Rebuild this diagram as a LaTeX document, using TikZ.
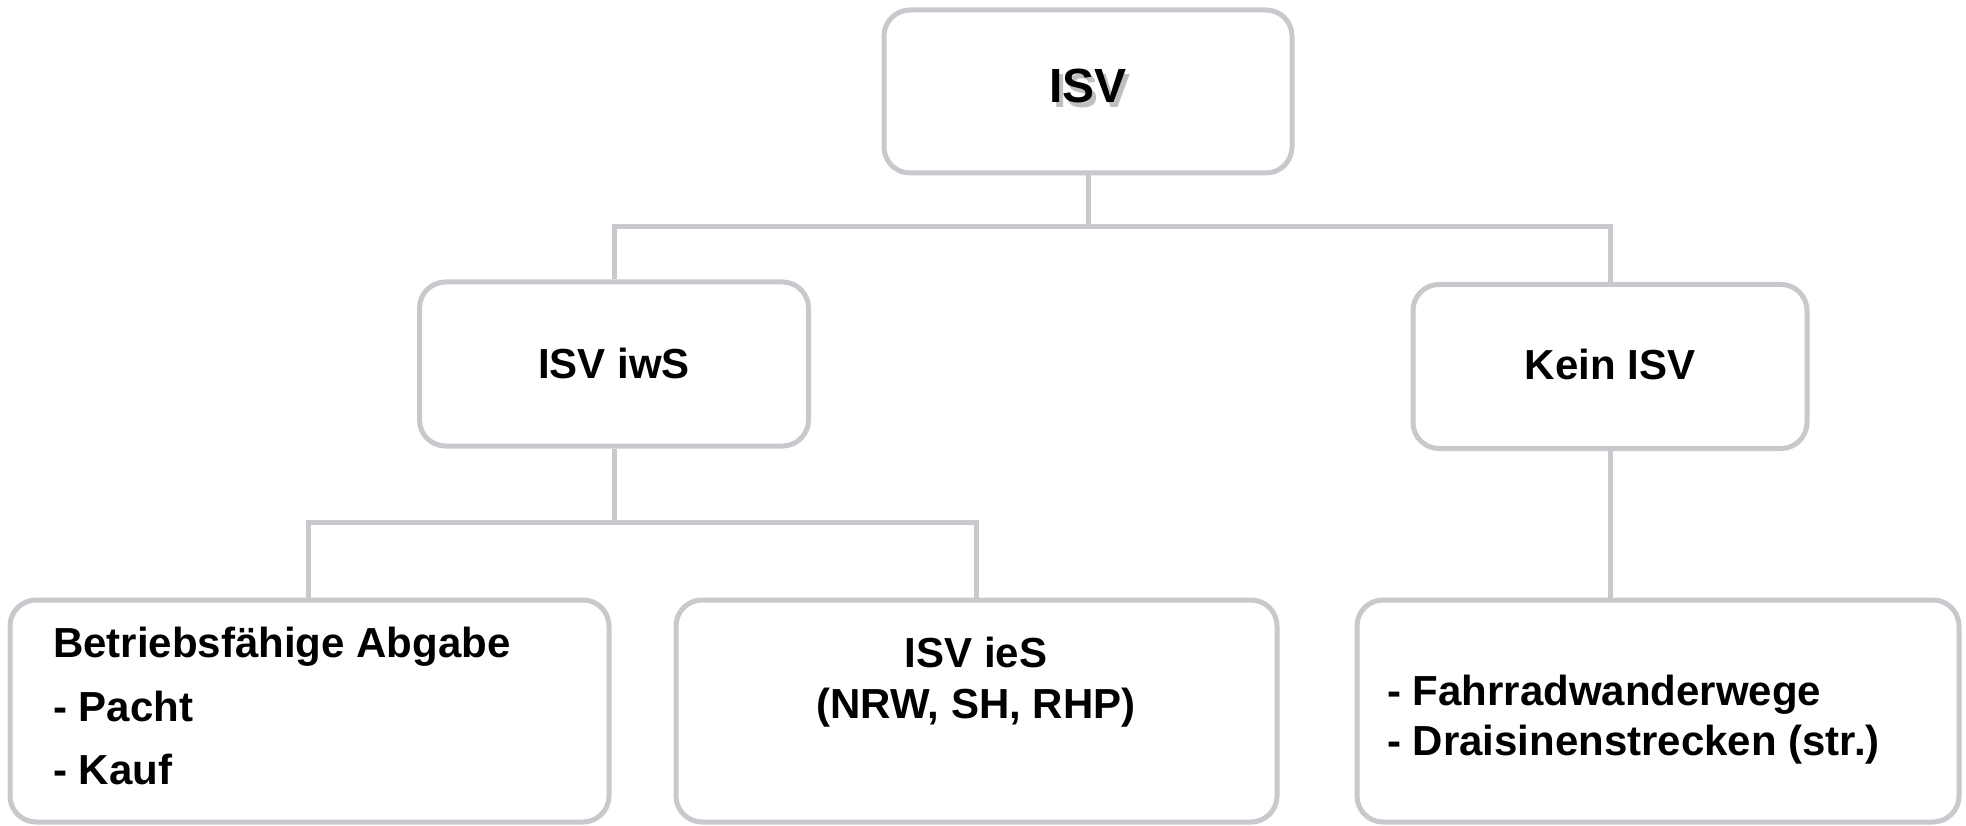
\documentclass[tikz,border=0pt]{standalone}
\usepackage{fontspec}
\setmainfont{Liberation Sans}
\definecolor{linegray}{RGB}{200,200,205}
\tikzset{
  box/.style={draw=linegray, line width=5pt, rounded corners=26pt, fill=white, inner sep=0pt},
  conn/.style={draw=linegray, line width=5pt},
  lbl/.style={font=\fontsize{42}{50}\selectfont\bfseries, inner sep=0pt, text=black},
  toplbl/.style={font=\fontsize{48}{56}\selectfont\bfseries, inner sep=0pt},
}
\begin{document}
\begin{tikzpicture}[x=1pt,y=-1pt]
\useasboundingbox (0,0) rectangle (1966,826);
% boxes
\node[box, minimum width=408pt, minimum height=163pt] (isv) at (1088,91.5) {};
\node[box, minimum width=389pt, minimum height=164pt] (iws) at (614,364) {};
\node[box, minimum width=394pt, minimum height=164pt] (kein) at (1610,366.5) {};
\node[box, minimum width=599pt, minimum height=222pt] (betr) at (309.5,711) {};
\node[box, minimum width=601pt, minimum height=222pt] (ies) at (976.5,711) {};
\node[box, minimum width=602pt, minimum height=222pt] (rad) at (1658,711) {};
% connectors
\coordinate (j1) at (1088,227);
\coordinate (j2) at (614,522);
\draw[conn] (isv.south) -- (j1);
\draw[conn] (iws.north) |- (j1) -| (kein.north);
\draw[conn] (iws.south) -- (j2);
\draw[conn] (betr.north -| 308,0) |- (j2) -| (ies.north);
\draw[conn] (kein.south) -- (rad.north -| kein.south);
% top label with soft shadow
\node[toplbl, anchor=base, text=black, opacity=0.25] (tshadow) at (1092,108) {ISV};
\node[toplbl, anchor=base] (tisv) at (1088,103) {ISV};
% labels
\node[lbl, anchor=base] (tiws) at (614,379) {ISV iwS};
\node[lbl, anchor=base] (tkein) at (1610,380) {Kein ISV};
\node[lbl, anchor=base west] (tb1) at (53,657) {Betriebsfähige Abgabe};
\node[lbl, anchor=base west] (tb2) at (53,721) {- Pacht};
\node[lbl, anchor=base west] (tb3) at (53,784) {- Kauf};
\node[lbl, anchor=base] (ti1) at (976,667) {ISV ieS};
\node[lbl, anchor=base] (ti2) at (976,718) {(NRW, SH, RHP)};
\node[lbl, anchor=base west] (tr1) at (1387,705) {- Fahrradwanderwege};
\node[lbl, anchor=base west] (tr2) at (1387,755) {- Draisinenstrecken (str.)};
\end{tikzpicture}
\end{document}
